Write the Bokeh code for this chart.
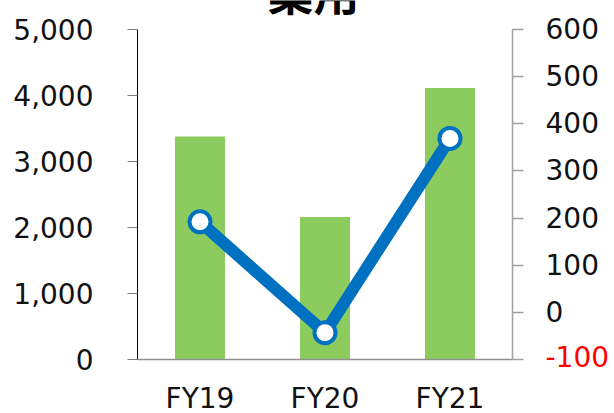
from bokeh.plotting import figure
from bokeh.models import (Range1d, LinearAxis, FixedTicker, Label,
                          NumeralTickFormatter, ColumnDataSource)
from bokeh.embed import file_html
from bokeh.resources import INLINE

title_text = "業用"
categories = ["FY19", "FY20", "FY21"]
bar_values = [3380, 2160, 4115]
line_values = [192, -43, 369]
left_ticks = [0, 1000, 2000, 3000, 4000, 5000]
right_ticks = [-100, 0, 100, 200, 300, 400, 500, 600]
red_tick = -100

FONT = "DejaVu Sans"
GREEN = "#8CCB5E"
BLUE = "#0070C0"

# category positions on a numeric scale (cell centres)
xs = [i + 0.5 for i in range(len(categories))]
src = ColumnDataSource(dict(x=xs, bar=bar_values, line=line_values))

W, H = 614, 413
# frame covers the whole canvas; axes are pinned with fixed_location
p = figure(width=W, height=H, output_backend="svg", toolbar_location=None,
           x_range=Range1d(-137 / 125, 3 + 102 / 125),
           y_range=Range1d(-54 / 0.066, 5000 + 29 / 0.066),
           min_border=0, min_border_left=0, min_border_right=0,
           min_border_top=0, min_border_bottom=0)
p.extra_y_ranges = {"right": Range1d(-100 - 54 * 700 / 330, 600 + 29 * 700 / 330)}
p.outline_line_color = None
p.xgrid.visible = False
p.ygrid.visible = False
p.background_fill_color = "white"
p.border_fill_color = "white"

p.vbar(x="x", top="bar", width=0.4, source=src, fill_color=GREEN, line_color=None)
p.line(x="x", y="line", source=src, y_range_name="right", line_color=BLUE,
       line_width=12)
p.scatter(x="x", y="line", source=src, y_range_name="right", size=21,
          fill_color="white", line_color=BLUE, line_width=4)

# left axis
ya = p.yaxis[0]
ya.fixed_location = 0
ya.bounds = (left_ticks[0], left_ticks[-1])
ya.ticker = FixedTicker(ticks=left_ticks)
ya.formatter = NumeralTickFormatter(format="0,0")
ya.axis_line_color = "black"
ya.axis_line_width = 1
ya.major_tick_line_color = "#808080"
ya.major_tick_out = 10
ya.major_tick_in = 0
ya.minor_tick_line_color = None
ya.major_label_text_font = FONT
ya.major_label_text_font_size = "28px"
ya.major_label_text_color = "#111111"
ya.major_label_standoff = 34

# right axis
ra = LinearAxis(y_range_name="right", ticker=FixedTicker(ticks=right_ticks))
ra.fixed_location = len(categories)
ra.bounds = (right_ticks[0], right_ticks[-1])
ra.major_label_overrides = {red_tick: " "}
ra.axis_line_color = "#A0A0A0"
ra.axis_line_width = 1.5
ra.major_tick_line_color = "#A0A0A0"
ra.major_tick_line_width = 1.5
ra.major_tick_out = 11
ra.major_tick_in = 0
ra.minor_tick_line_color = None
ra.major_label_text_font = FONT
ra.major_label_text_font_size = "28px"
ra.major_label_text_color = "#111111"
ra.major_label_standoff = 22
p.add_layout(ra, "right")

# x axis
xa = p.xaxis[0]
xa.fixed_location = 0
xa.bounds = (0, len(categories))
xa.ticker = FixedTicker(ticks=xs)
xa.major_label_overrides = {x: c for x, c in zip(xs, categories)}
xa.axis_line_color = "#909090"
xa.axis_line_width = 1.5
xa.major_tick_line_color = None
xa.minor_tick_line_color = None
xa.major_label_text_font = FONT
xa.major_label_text_font_size = "28px"
xa.major_label_text_color = "#111111"
xa.major_label_standoff = 16

# red -100 label on the right axis
p.add_layout(Label(x=545, x_units="screen", y=red_tick, y_range_name="right",
                   y_offset=3,
                   text=str(red_tick), text_color="red", text_font=FONT,
                   text_font_size="28px", text_baseline="middle", text_align="left"))

# title (cut off at the top of the picture)
p.add_layout(Label(x=313, x_units="screen", y=H + 11, y_units="screen",
                   text=title_text, text_font="Noto Sans CJK JP",
                   text_font_style="bold", text_font_size="46px",
                   text_color="black",
                   text_align="center", text_baseline="alphabetic"))

open("out.html", "w").write(file_html(p, INLINE))
